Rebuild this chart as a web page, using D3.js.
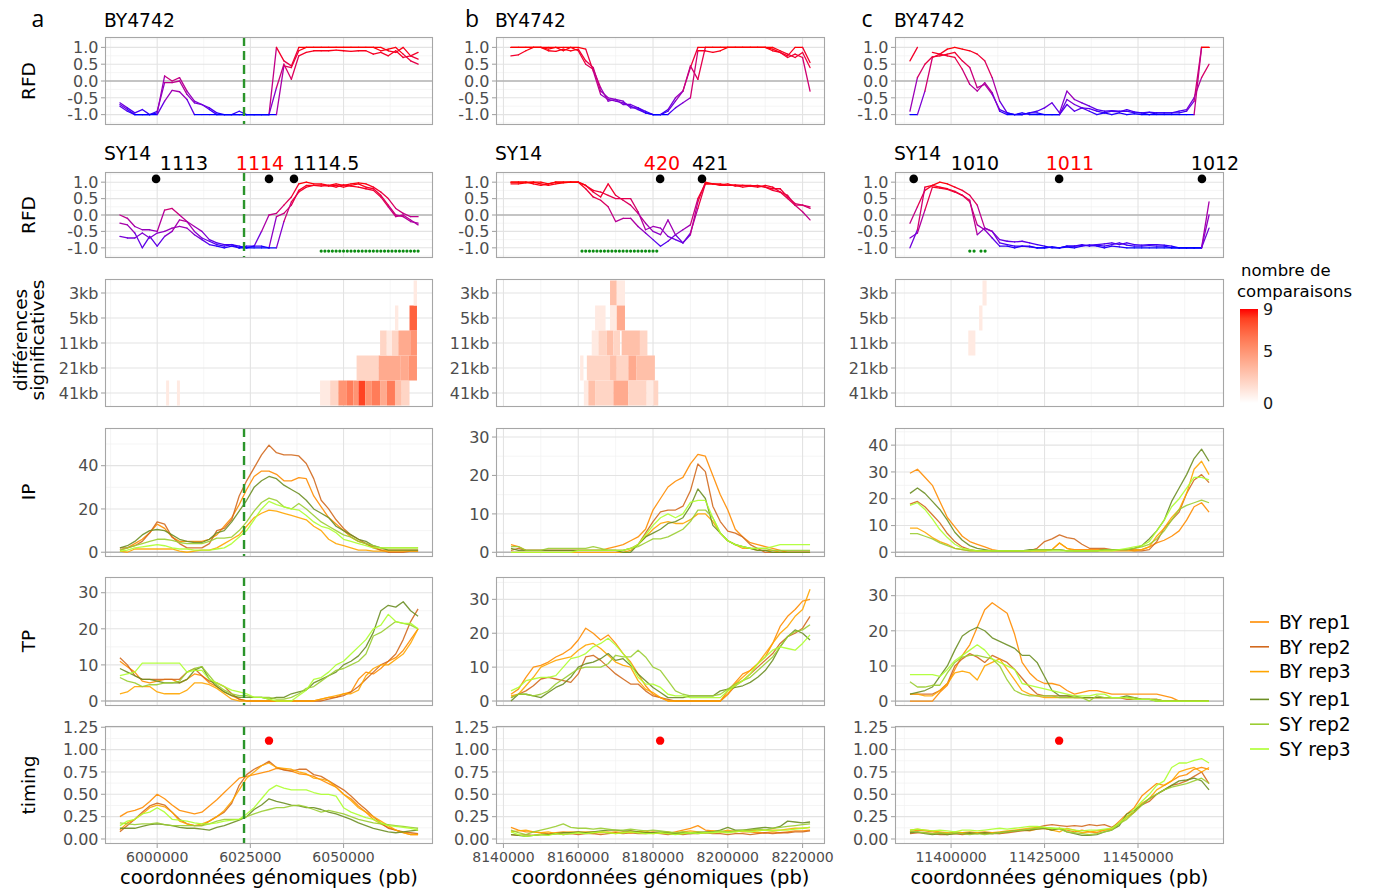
<!DOCTYPE html>
<html><head><meta charset="utf-8">
<script src="https://cdnjs.cloudflare.com/ajax/libs/d3/7.8.5/d3.min.js"></script>
<style>body{margin:0;background:#fff}svg{display:block}</style>
</head><body>
<svg id="chart" width="1376" height="894"></svg>
<script>
// ---------------- DATA ----------------
const regionStart = [5990000, 8142000, 11389000];
const regionEnd   = [6070000, 8222000, 11469000];
const stepBp = 2000;
const panelLetters = ["a","b","c"];

const xTicksA = [6000000, 6025000, 6050000];
const xTicksB = [8140000, 8160000, 8180000, 8200000, 8220000];
const xTicksC = [11400000, 11425000, 11450000];
const xMinorA = [5987500, 6012500, 6037500, 6062500];
const xMinorB = [8150000, 8170000, 8190000, 8210000];
const xMinorC = [11387500, 11412500, 11437500, 11462500];

const rfdTicks = [-1, -0.5, 0, 0.5, 1];
const rfdMinor = [-1.25, -0.75, -0.25, 0.25, 0.75, 1.25];
const ipTicksA = [0, 20, 40], ipMinorA = [10, 30, 50];
const ipTicksB = [0, 10, 20, 30], ipMinorB = [5, 15, 25];
const ipTicksC = [0, 10, 20, 30, 40], ipMinorC = [5, 15, 25, 35, 45];
const tpTicks = [0, 10, 20, 30], tpMinor = [5, 15, 25, 35];
const timTicks = [0, 0.25, 0.5, 0.75, 1, 1.25], timMinor = [0.125, 0.375, 0.625, 0.875, 1.125];

const rfdDom = [-1.31, 1.31];
const ipDomA = [-2.2, 57.4], ipDomB = [-1.22, 32.35], ipDomC = [-1.75, 46.4];
const tpDomA = [-1.39, 34.35], tpDomB = [-1.47, 36.6], tpDomC = [-1.4, 35.3];
const timDom = [-0.056, 1.264];

const seriesNames = ["BY rep1","BY rep2","BY rep3","SY rep1","SY rep2","SY rep3"];
const seriesColors = ["#FF8C00","#D2691E","#FFA500","#6B8E23","#9ACD32","#ADFF2F"];

const heatRows = ["3kb","5kb","11kb","21kb","41kb"];
const heatLegendTicks = [0, 5, 9];

// RFD BY4742
const rfdBYa = [
 [-0.65,-0.8,-0.95,-0.85,-1.0,-0.95,0.15,0.0,0.1,-0.3,-0.6,-0.7,-0.85,-1.0,-1.0,-1.0,-0.9,-1.0,-1.0,-1.0,-1.0,1.0,0.6,0.45,1.0,1.0,1.0,1.0,1.0,1.0,1.0,1.0,1.0,1.0,1.0,1.0,0.9,0.85,1.0,0.75,0.85],
 [-0.7,-0.85,-1.0,-1.0,-1.0,-0.9,-0.05,-0.05,0.0,-0.4,-0.65,-0.7,-0.8,-0.95,-1.0,-1.0,-1.0,-1.0,-1.0,-1.0,-1.0,-0.2,0.5,0.05,0.75,0.85,0.9,0.9,0.9,0.92,0.9,0.88,0.9,0.9,0.8,0.85,0.75,0.9,0.7,0.75,0.65],
 [-0.75,-0.9,-1.0,-1.0,-1.0,-1.0,-0.6,-0.28,-0.32,-0.55,-1.0,-1.0,-1.0,-1.0,-1.0,-1.0,-1.0,-1.0,-1.0,-1.0,-1.0,-1.0,0.45,0.4,0.9,1.0,1.0,1.0,1.0,1.0,1.0,1.0,1.0,1.0,1.0,0.9,0.95,1.0,0.8,0.6,0.5]
];
const rfdBYb = [
 [1,1,1,1,1,1,1,0.9,1,1,0.95,0.3,-0.4,-0.55,-0.6,-0.65,-0.75,-0.85,-0.95,-1.0,-1.0,-0.9,-0.6,-0.3,0.4,1.0,1.0,1.0,1.0,1.0,1.0,1.0,1.0,1.0,1.0,0.95,0.85,0.75,1.0,1.0,0.55],
 [0.75,0.78,0.9,1,1,0.9,0.88,0.95,0.9,0.95,0.6,0.4,-0.3,-0.5,-0.55,-0.7,-0.7,-0.8,-0.9,-1.0,-1.0,-1.0,-0.8,-0.65,-0.5,0.9,0.9,0.85,0.9,1,1,1,1,1,1,1,0.9,0.8,0.7,0.85,0.4],
 [1,1,1,1,1,0.95,1,1,1,0.9,0.5,0.35,-0.2,-0.6,-0.55,-0.6,-0.8,-0.8,-0.95,-1.0,-1.0,-0.85,-0.5,-0.3,0.45,0.05,1.0,1.0,1.0,1.0,1.0,1.0,1.0,1.0,1.0,0.9,0.85,0.7,0.8,0.7,-0.3]
];
const rfdBYc = [
 [0.6,1.0,null,0.85,0.8,0.95,1.0,0.95,0.9,0.8,0.6,0.1,-0.6,-0.95,-1.0,-1.0,-0.95,-0.95,-1.0,-1.0,-1.0,-0.55,-0.7,-0.8,-0.82,-0.9,-0.95,-0.9,-0.92,-0.85,-0.92,-0.95,-1.0,-0.95,-0.95,-0.95,-0.95,-0.9,-0.6,1.0,1.0],
 [-0.9,0.1,0.5,0.72,0.75,0.8,0.85,0.6,0.4,-0.2,-0.1,-0.4,-0.85,-0.95,-1.0,-1.0,-0.95,-0.9,-0.8,-0.65,-0.95,-0.3,-0.55,-0.65,-0.75,-0.85,-0.9,-0.88,-0.9,-0.9,-0.95,-0.95,-0.93,-0.95,-0.95,-0.95,-0.9,-0.85,-0.5,0.1,0.5],
 [-1.0,-1.0,-0.3,0.7,0.8,0.75,0.7,0.35,-0.1,-0.3,-0.05,-0.35,-0.9,-1.0,-1.0,-0.95,-1.0,-1.0,-1.0,-1.0,-1.0,-0.7,-0.9,-0.8,-0.9,-1.0,-0.95,-1.0,-0.95,-1.0,-0.98,-1.0,-1.0,-1.0,-1.0,-1.0,-1.0,-1.0,-1.0,1.0,1.0]
];
// RFD SY14
const rfdSYa = [
 [0.0,-0.1,-0.35,-0.45,-0.45,-0.5,0.15,0.2,0.0,-0.2,-0.35,-0.5,-0.75,-0.85,-0.9,-0.9,-1.0,-0.95,-0.95,-0.5,0.0,0.05,0.3,0.55,0.95,1.0,0.95,0.95,0.9,0.95,0.9,0.95,0.98,0.95,0.85,0.7,0.5,0.2,0.05,-0.05,-0.05],
 [-0.25,-0.3,-0.55,-1.0,-0.65,-0.95,-0.65,-0.5,-0.15,-0.2,-0.5,-0.7,-0.8,-0.9,-0.95,-0.9,-0.95,-1.0,-0.95,-0.95,-1.0,-0.05,0.05,0.3,0.75,0.9,0.9,0.92,0.88,0.9,0.85,0.9,0.95,0.85,0.8,0.6,0.3,0.0,-0.05,-0.2,-0.25],
 [-0.65,-0.7,-0.7,-0.55,-0.7,-0.55,-0.5,-0.4,-0.35,-0.4,-0.6,-0.75,-0.9,-0.95,-1.0,-0.95,-1.0,-1.0,-1.0,-1.0,-1.0,-1.0,-0.2,0.4,0.7,0.85,0.9,0.88,0.9,0.85,0.92,0.88,0.85,0.8,0.75,0.55,0.25,-0.05,0.0,-0.15,-0.3]
];
const rfdSYb = [
 [1,1,1,0.95,0.9,0.95,1,1,1,1,0.9,0.7,0.55,0.95,0.6,0.45,0.3,0.05,-0.25,-0.5,-0.6,-0.15,-0.6,-0.85,-0.55,0.2,0.95,0.95,0.95,0.9,0.92,0.9,0.9,0.88,0.85,0.8,0.8,0.55,0.35,0.3,0.2],
 [0.95,0.95,0.98,1,0.95,0.9,0.95,0.98,1,1,0.9,0.75,0.7,0.6,0.5,0.5,0.5,0.1,-0.45,-0.35,-0.4,-0.65,-0.75,-0.85,-0.6,0.4,1.0,0.95,0.92,0.95,0.88,0.9,0.88,0.85,0.9,0.85,0.7,0.6,0.3,0.3,0.25],
 [1,1,1,1,1,0.95,1,1,1,1,0.8,0.55,0.45,0.25,-0.2,-0.1,-0.1,-0.35,-0.55,-0.75,-0.95,-0.8,-0.6,-0.45,-0.3,0.5,0.95,0.95,0.9,0.9,0.9,0.85,0.88,0.9,0.85,0.75,0.7,0.5,0.3,0.1,-0.15]
];
const rfdSYc = [
 [-0.25,0.25,0.75,0.9,1.0,0.95,0.85,0.75,0.6,0.3,-0.4,-0.5,-0.75,-0.8,-0.82,-0.8,-0.85,-0.9,-0.95,-1.0,-1.0,-0.95,-0.95,-0.93,-0.92,-0.9,-0.88,-0.85,-0.9,-0.85,-0.9,-0.92,-0.9,-0.9,-0.92,-0.95,-1.0,-1.0,-1.0,-1.0,0.4],
 [-0.7,-0.55,0.15,0.85,0.82,0.78,0.7,0.6,0.45,-0.6,-0.4,-0.5,-0.85,-0.9,-0.95,-0.95,-0.97,-1.0,-1.0,-0.98,-1.0,-0.95,-0.95,-0.9,-0.95,-0.92,-0.95,-0.9,-0.85,-0.92,-0.95,-0.95,-0.93,-0.95,-0.95,-1.0,-1.0,-1.0,-1.0,-1.0,0.0],
 [-1.0,-0.45,0.85,0.9,0.85,0.8,0.72,0.6,0.4,-0.3,-0.45,-0.7,-0.95,-0.95,-1.0,-0.95,-0.95,-1.0,-1.0,-0.97,-1.0,-0.98,-1.0,-0.95,-0.92,-0.95,-1.0,-0.95,-0.97,-1.0,-1.0,-1.0,-1.0,-1.0,-1.0,-1.0,-1.0,-1.0,-1.0,-1.0,-0.4]
];

// heatmap tiles: [row, start, end, count]
const heatA = [
 ["41kb",6002400,6003200,1],["41kb",6005300,6006100,1],
 ["41kb",6043700,6046400,1],["41kb",6046400,6048600,2],["41kb",6048600,6050900,5],["41kb",6050900,6052600,6],["41kb",6052600,6054000,5],["41kb",6054000,6055800,8],["41kb",6055800,6057600,5],["41kb",6057600,6059800,6],["41kb",6059800,6061600,4],["41kb",6061600,6063800,6],["41kb",6063800,6065600,3],["41kb",6065600,6067700,2],
 ["21kb",6053500,6059400,2],["21kb",6059400,6065200,4],["21kb",6065200,6067400,4],["21kb",6067400,6069700,5],
 ["11kb",6059800,6061600,2],["11kb",6061600,6063000,1],["11kb",6063000,6064700,2],["11kb",6064700,6067900,4],["11kb",6067900,6069700,5],
 ["5kb",6063800,6064700,1],["5kb",6067700,6069700,7],
 ["3kb",6068800,6069700,1]
];
const heatB = [
 ["3kb",8168500,8170300,3],["3kb",8170300,8172500,1],
 ["5kb",8164500,8167300,1],["5kb",8168500,8170300,1],["5kb",8170300,8172500,4],
 ["11kb",8163600,8165400,1],["11kb",8165400,8167600,2],["11kb",8167600,8169400,3],["11kb",8169400,8171200,2],["11kb",8171600,8176500,3],["11kb",8176500,8178500,2],
 ["21kb",8160500,8161400,1],["21kb",8162300,8168500,2],["21kb",8168500,8170300,3],["21kb",8170300,8173400,2],["21kb",8173400,8175600,4],["21kb",8175600,8180500,3],
 ["41kb",8161500,8162700,1],["41kb",8162700,8164500,3],["41kb",8164500,8169400,2],["41kb",8169400,8173400,4],["41kb",8173400,8178300,2],["41kb",8178300,8180100,1],["41kb",8180100,8181400,2]
];
const heatC = [["3kb",11408400,11409500,1],["5kb",11407500,11408400,1],["11kb",11404600,11406500,1]];

// significant positions (green dots)
const greenA = [6044000,6045000,6046000,6047000,6048000,6049000,6050000,6051000,6052000,6053000,6054000,6055000,6056000,6057000,6058000,6059000,6060000,6061000,6062000,6063000,6064000,6065000,6066000,6067000,6068000,6069000,6070000];
const greenB = [8161000,8162000,8163000,8164000,8165000,8166000,8167000,8168000,8169000,8170000,8171000,8172000,8173000,8174000,8175000,8176000,8177000,8178000,8179000,8180000,8181000];
const greenC = [11405000,11406150,11408000,11409100];

// origins: [name, position, label position, is target]
const originsA = [["1113",5999700,6007200,false],["1114",6030000,6027600,true],["1114.5",6036700,6045300,false]];
const originsB = [["420",8181900,8182400,true],["421",8193100,8195300,false]];
const originsC = [["1010",11390000,11406400,false],["1011",11428900,11431800,true],["1012",11467100,11470600,false]];
const dashPos = [6023300, null, null];

// IP
const ipA = [
 [1,2,4,6,9,13,11,7,5,5,5,5,6,8,12,16,22,29,35,37.5,37.5,36,33,33,34.5,34,26,21,16,13,10,7,5,4,2.5,1,1,1,1,1,1],
 [2,2,3,5,9,14,13,7,4,2,2,2,4,10,11,15,26,33,39,45,49.5,46,45,45,44.5,41,34,24,20,15,11,8,6,4,2,1,0,0,0,0.5,0.5],
 [0.5,0,1.5,1.5,1.5,1.5,1.5,1.5,0.5,0,0.5,1,1,2,4,6,8,12,16,18,19.5,19,18,17,16,15,12,10,6,4,3,2,1,1,0.5,0.5,0.5,0.5,0.5,0.5,0.5],
 [2,3,5,8,10,10.5,10,8,6,5,4.5,4.5,6,9,10,14,19,24,30,33,35,34,31,29,27,24,20,18,16,12,10,8,6,5,3,2,1,1,1,1,1],
 [1,2,3,4,5,6,6,5.5,4.5,4,4,4,5,6.5,6.5,7,10,14,19,23,25,24,21,20,22.5,20,17,14,12,10,8,7,5,4,3,2,2,2,2,2,2],
 [0.5,1,2,2.5,3,3.5,3,2,1.5,1.5,1,1,1,1.5,2,4,7,10,15,20,23.5,22,21,20,19.5,17,14,12,11,9,6,5,4,3,2,2,2,2,2,2,2]
];
const ipB = [
 [2,1.5,0.5,0.5,0.5,0.5,0.5,0.5,0.5,0.5,0.5,0.5,0.5,1,1.5,2,3,4,6,11,14,17,18.5,19.5,23,25.5,25,20,15,11,6,4,2.5,2,1.5,1,0.5,0,0,0,0],
 [0.5,1,0.5,0.5,0.5,0.5,0.5,0.5,0.5,0.5,0.5,0.5,0.5,0.5,0.5,0.5,1,2,5,8,10.5,11,11,12,16,23,21,12,8,5.5,5,4,2,1,0,0,0,0,0,0,0],
 [0,0,0,0,0,0,0,0,0,0,0,0,0,0,0,0,0.5,2,4,6,7.5,8,7.5,7.5,8.5,10,10,8,5,3,2,1,1,0.5,0.5,0.5,0,0,0,0,0],
 [1,0.5,0.5,0.5,0.5,0.5,0.5,0.5,0.5,0.5,0.5,0.5,0.5,0.5,0.5,0,0,2,4,5,6,7.5,8,9,12,16.5,14,7,5,3,2,1.5,1,0.5,0.5,0,0,0,0,0,0],
 [1.5,1.5,0.5,0.5,0.5,1,1,1,1,1,1,1.5,1,0.5,0.5,0.5,1,1.5,2.5,3.5,3.5,4,5,6,8,11,11,9,5,3,2,1.5,1,1,1,0.5,0.5,0.5,0.5,0.5,0.5],
 [0,0,0,0,0,0,0,0,0,0.5,0.5,0.5,0.5,0.5,0.5,0.5,1,2,4.5,7,9,10,9,10,13,13.5,13.5,9,5,3,2,1.5,1,1,1,1.5,2,2,2,2,2]
];
const ipC = [
 [29.5,31,28,25,19,13,9.5,6,4,3,2,1,0.5,0.5,0.5,0.5,0.5,0.5,0.5,1,3.5,1.5,1,1,1,1,1,1,1,1,1,1,2,3.5,4.5,6,8,12,17,18.5,15],
 [18,19,17,14,11,7,4,2,1,0.5,0.5,0.5,0.5,0.5,0.5,0.5,0.5,1.5,4,5,6.5,5.5,5,3,1.5,1.5,1.5,1,1,1,0.5,0.5,1,4,9,12,15,22,27,29,26],
 [9,9,7.5,5.5,4,3,1.5,1,0.5,0.5,0.5,0.5,0.5,0.5,0.5,0.5,0.5,0.5,0.5,1,3.5,1.5,0.5,0.5,0.5,0.5,0.5,0.5,0.5,0.5,0.5,1,2,6,9,13,16,22,31,34,29],
 [22,24,22,19,16,12,7.5,4.5,2.5,1.5,1,0.5,0.5,0.5,0.5,0.5,1,1,1,1,1,0.5,0.5,0.5,0.5,0.5,1,1,1,1,1.5,2.5,5,8,12,19,24,29,35,38.5,34],
 [7,7,6,5,3.5,2.5,1.5,1,0.5,0.5,0.5,0.5,0.5,0.5,0.5,0.5,0.5,1,1,1,1,0.5,0.5,0.5,0.5,0.5,1,1,1,1,1.5,2,3,5,8,12,16,17.5,18.5,19.5,18.5],
 [17.5,18.5,16,12.5,8.5,5.5,3,1.5,1,0.5,0.5,0.5,0.5,0.5,0.5,0.5,0.5,0.5,0.5,0.5,0.5,0.5,0.5,0.5,0.5,0.5,0.5,0.5,1,1.5,2,2.5,4,8,12,17,20,24,28,28,27]
];
// TP
const tpA = [
 [11,9.5,8,5.5,5,5.5,6,6,5,6,7.5,7,5,4,2.5,1.5,0.5,0,0,0,0,0,0,0,0,0,0,0.5,1,1,2,2.5,6,8,7.5,9,11,12,14,17,20],
 [12,10,7,6,6,6,6,6,6,8,9,7,5.5,5,4,2,0.5,0,0,0,0,0,0,0,0,0,0,0,0.5,1,1.5,2.5,4,6,8,10,11,13,17,22,25.5],
 [2,2.5,4,4,4,2.5,2,2,2,3,5,5,4.5,3.5,2,0.5,0,0,0,0,0,0,0,0,0,0,0,0.5,1,1.5,2,2,3,7,9,10,10,11.5,13,16,20],
 [9,8,7,6,6,5.5,5,5,5,6,8.5,9.5,6,4,2.5,1.5,1,1,1,1,0.5,1,1,2,2.5,3,5,6,7,8,10,11,12.5,15,19,25,26.5,26,27.5,25,23.5],
 [6.5,5.5,5,4,4.5,4.5,5,5,5.5,8,9,9.5,7,4.5,3,2,1.5,1.5,1,1,1,0.5,0.5,1,2,3.5,4,5.5,7,8.5,9,10,11,13,18,19,20.5,22,21.5,21,20],
 [7,7.5,8,10.5,10.5,10.5,10.5,10.5,10.5,8,8.5,8.5,6,5,4,3,2.5,2,1,1,0.5,0,0,0,1.5,3,6,6.5,8,10,11,13,15,17,20,21,24,22,21.5,21.5,20]
];
const tpB = [
 [2,3.5,7,10,10.5,11.5,13,14,15.5,18,21.5,20,18,19.5,17,14,11.5,8,4.5,2,1,0,0,0,0,0,0,0,0,3,5.5,8,9,11,13,17,22,25,27,29.5,30],
 [1,2,3,4.5,6.5,7,6.5,6,5.5,8,13,13.5,12,10,8,6.5,5,5,3,1.5,1,0.5,0,0,0,0,0,0,0,2,4.5,6,8,10,12,14,17,19,20,21.5,25],
 [1.5,2,4.5,7,10,11,12,12.5,13,15,16.5,17,15.5,13.5,11.5,10.5,10,6,3.5,2.5,1,0,0,0,0,0,0,0,0,2,5,7,9,11,14,17,20,22,25,27,33],
 [0,2,2,1.5,1,2.5,4,5,7,10,11,11.5,12.5,14,12,12.5,10.5,8,6,4,2.5,1,1,1,1.5,1.5,1.5,1.5,3,3.5,4,4.5,5.5,7,9,12,16,19,21,20,18],
 [1,2,2,1.5,2,3,5,6.5,8,9.5,10,10,10,11,13.5,13,13,15,13,10,9,6,3,2,1.5,1.5,1.5,1.5,2,3.5,5,6,7,9,11,13,16,19,20.5,21,22.5],
 [3,4,6,6.5,7,7,7.5,10,12.5,13,14,16,17,18.5,16.5,14,11,7,5,5,4,2,1.5,1.5,1,1,1,1,1,3,4.5,6,8,11,13,15,16,15.5,15,17,19.5]
];
const tpC = [
 [0,0,0,0,2.5,4.5,9,13,16,21,26,28,26.5,25,19,11,8,6,5,5,4.5,3,2,2.5,3,3,2.5,2,2,2,2,2,2,2,1.5,1,0,0,0,0,0],
 [2,2,2,2,3,5,10,12,13.5,12.5,11,13,12,11,9,6.5,4,2,1.5,1.5,1.5,1.5,1,1,1,1,1,1,1,0.5,0.5,0.5,0.5,0.5,0,0,0,0,0,0,0],
 [2,2,1.5,1.5,3,5,8,8.5,8,6,10,11,12,9,6,3,2,1.5,1,1,1,1,1,1,1,1,1,1,1,1,1,0.5,0.5,0.5,0,0,0,0,0,0,0],
 [2,2.5,3,4,7,10,14.5,18.5,20,21,20,18,17,16,15,13,13,11,7,3,1.5,1.5,1.5,1,1,1,1,1,1,1.5,1,0.5,0.5,0,0,0,0,0,0,0,0],
 [5.5,4,4,4.5,4.5,8,11,12.5,13,13,12.5,12,10,6,3,2,1.5,1.5,1.5,1.5,1,1,1,1,0,1.5,1,1,1,1,1,0.5,0.5,0.5,0,0,0,0,0,0,0],
 [7.5,7.5,7.5,7.5,7,9,11.5,13,14.5,16,14.5,12,11,10,9,5,4.5,4,3.5,3,2.5,2,1.5,1.5,1.5,2,2,1,1,1,0.5,0.5,0.5,0,0,0,0,0,0,0,0]
];
// timing
const timA = [
 [0.25,0.3,0.32,0.35,0.42,0.5,0.45,0.38,0.32,0.3,0.28,0.3,0.37,0.44,0.52,0.6,0.68,0.7,0.72,0.74,0.76,0.79,0.78,0.76,0.73,0.72,0.7,0.66,0.62,0.58,0.5,0.45,0.37,0.3,0.22,0.17,0.13,0.1,0.07,0.05,0.05],
 [0.08,0.15,0.22,0.3,0.37,0.4,0.38,0.3,0.22,0.17,0.15,0.15,0.2,0.25,0.3,0.4,0.6,0.72,0.78,0.82,0.87,0.8,0.77,0.76,0.78,0.78,0.72,0.7,0.65,0.6,0.55,0.48,0.4,0.33,0.25,0.18,0.12,0.1,0.08,0.07,0.06],
 [0.1,0.18,0.22,0.28,0.35,0.38,0.36,0.3,0.2,0.17,0.15,0.17,0.2,0.25,0.32,0.42,0.55,0.68,0.75,0.82,0.85,0.8,0.79,0.78,0.75,0.73,0.68,0.67,0.65,0.58,0.5,0.43,0.35,0.3,0.25,0.2,0.15,0.1,0.07,0.05,0.05],
 [0.12,0.12,0.12,0.14,0.16,0.17,0.16,0.15,0.13,0.12,0.12,0.11,0.1,0.13,0.15,0.18,0.21,0.25,0.33,0.38,0.45,0.42,0.4,0.38,0.37,0.35,0.35,0.33,0.3,0.28,0.25,0.22,0.18,0.15,0.12,0.1,0.08,0.07,0.08,0.09,0.1],
 [0.18,0.17,0.16,0.17,0.17,0.18,0.16,0.15,0.15,0.15,0.15,0.15,0.17,0.2,0.22,0.22,0.22,0.25,0.28,0.31,0.33,0.35,0.35,0.37,0.38,0.36,0.33,0.3,0.32,0.3,0.28,0.25,0.22,0.2,0.18,0.17,0.16,0.15,0.14,0.13,0.12],
 [0.15,0.2,0.22,0.28,0.3,0.35,0.3,0.22,0.21,0.2,0.18,0.17,0.17,0.18,0.2,0.21,0.22,0.28,0.35,0.45,0.55,0.6,0.57,0.55,0.55,0.55,0.52,0.5,0.5,0.48,0.35,0.3,0.27,0.24,0.22,0.18,0.15,0.14,0.13,0.12,0.1]
];
const timB = [
 [0.13,0.1,0.08,0.08,0.07,0.06,0.07,0.08,0.07,0.08,0.07,0.06,0.08,0.07,0.08,0.07,0.09,0.08,0.07,0.08,0.07,0.06,0.08,0.1,0.12,0.15,0.1,0.09,0.08,0.08,0.09,0.08,0.08,0.07,0.07,0.08,0.07,0.08,0.09,0.09,0.1],
 [0.05,0.04,0.05,0.04,0.05,0.05,0.06,0.05,0.06,0.05,0.06,0.06,0.05,0.06,0.07,0.06,0.07,0.06,0.06,0.07,0.06,0.05,0.06,0.05,0.06,0.06,0.07,0.06,0.06,0.05,0.06,0.06,0.05,0.06,0.07,0.06,0.07,0.07,0.08,0.08,0.09],
 [0.08,0.09,0.1,0.08,0.07,0.08,0.06,0.07,0.08,0.07,0.08,0.08,0.07,0.08,0.06,0.08,0.07,0.08,0.09,0.06,0.07,0.08,0.06,0.08,0.09,0.08,0.07,0.09,0.08,0.1,0.08,0.09,0.1,0.09,0.1,0.1,0.1,0.11,0.12,0.12,0.13],
 [0.05,0.04,0.03,0.04,0.05,0.05,0.06,0.07,0.07,0.08,0.07,0.08,0.09,0.1,0.1,0.09,0.09,0.08,0.07,0.07,0.08,0.07,0.06,0.07,0.06,0.07,0.08,0.08,0.1,0.13,0.1,0.1,0.11,0.12,0.13,0.12,0.14,0.2,0.19,0.18,0.19],
 [0.1,0.07,0.05,0.08,0.1,0.12,0.14,0.17,0.13,0.12,0.12,0.11,0.12,0.11,0.1,0.1,0.11,0.1,0.09,0.1,0.09,0.08,0.07,0.08,0.07,0.08,0.07,0.08,0.09,0.08,0.09,0.1,0.1,0.11,0.1,0.12,0.13,0.14,0.15,0.16,0.17],
 [0.08,0.05,0.03,0.04,0.05,0.04,0.06,0.05,0.06,0.07,0.06,0.07,0.08,0.07,0.06,0.07,0.08,0.07,0.06,0.06,0.07,0.06,0.05,0.06,0.07,0.06,0.07,0.07,0.08,0.07,0.08,0.09,0.08,0.09,0.1,0.09,0.1,0.1,0.11,0.12,0.13]
];
const timC = [
 [0.08,0.1,0.09,0.08,0.07,0.06,0.08,0.07,0.06,0.07,0.08,0.07,0.06,0.08,0.09,0.1,0.09,0.11,0.12,0.1,0.12,0.1,0.08,0.1,0.08,0.07,0.1,0.12,0.2,0.28,0.35,0.48,0.55,0.62,0.6,0.65,0.7,0.72,0.78,0.8,0.78],
 [0.06,0.07,0.07,0.06,0.05,0.05,0.06,0.05,0.06,0.06,0.07,0.06,0.06,0.07,0.08,0.09,0.1,0.13,0.15,0.16,0.15,0.14,0.15,0.14,0.16,0.15,0.16,0.13,0.18,0.25,0.3,0.38,0.42,0.5,0.55,0.6,0.62,0.65,0.7,0.75,0.62],
 [0.1,0.11,0.1,0.09,0.08,0.07,0.06,0.07,0.08,0.07,0.06,0.07,0.08,0.09,0.1,0.11,0.12,0.13,0.12,0.1,0.08,0.12,0.1,0.07,0.08,0.09,0.1,0.11,0.17,0.24,0.3,0.4,0.45,0.55,0.6,0.65,0.75,0.78,0.8,0.75,0.8],
 [0.07,0.08,0.06,0.05,0.06,0.05,0.06,0.06,0.07,0.06,0.07,0.06,0.07,0.08,0.09,0.1,0.1,0.11,0.12,0.1,0.12,0.08,0.06,0.04,0.04,0.05,0.08,0.1,0.15,0.28,0.32,0.38,0.45,0.5,0.55,0.6,0.65,0.66,0.68,0.65,0.55],
 [0.09,0.08,0.07,0.06,0.07,0.06,0.07,0.06,0.05,0.06,0.05,0.06,0.07,0.08,0.09,0.1,0.11,0.12,0.13,0.12,0.11,0.08,0.07,0.06,0.05,0.06,0.08,0.1,0.17,0.22,0.3,0.38,0.45,0.5,0.55,0.58,0.6,0.62,0.65,0.68,0.62],
 [0.1,0.11,0.1,0.09,0.1,0.09,0.08,0.1,0.1,0.09,0.1,0.11,0.12,0.11,0.12,0.13,0.14,0.14,0.13,0.12,0.12,0.11,0.1,0.09,0.1,0.1,0.11,0.12,0.18,0.25,0.33,0.42,0.5,0.6,0.65,0.8,0.85,0.85,0.88,0.9,0.85]
];

// ---------------- DRAWING ----------------
const cols = [
 {rfdBY: rfdBYa, rfdSY: rfdSYa, heat: heatA, ip: ipA, tp: tpA, tim: timA, ipDom: ipDomA, ipTicks: ipTicksA, ipMinor: ipMinorA, tpDom: tpDomA, xt: xTicksA, xm: xMinorA, green: greenA, origins: originsA},
 {rfdBY: rfdBYb, rfdSY: rfdSYb, heat: heatB, ip: ipB, tp: tpB, tim: timB, ipDom: ipDomB, ipTicks: ipTicksB, ipMinor: ipMinorB, tpDom: tpDomB, xt: xTicksB, xm: xMinorB, green: greenB, origins: originsB},
 {rfdBY: rfdBYc, rfdSY: rfdSYc, heat: heatC, ip: ipC, tp: tpC, tim: timC, ipDom: ipDomC, ipTicks: ipTicksC, ipMinor: ipMinorC, tpDom: tpDomC, xt: xTicksC, xm: xMinorC, green: greenC, origins: originsC}
];

const FONT = "'DejaVu Sans', Verdana, sans-serif";
const GRID_MAJ = "#e3e3e3", GRID_MIN = "#f0f0f0", BORDER = "#a6a6a6", TICK = "#a6a6a6", TICKTXT = "#4d4d4d";
const colPx = [[105,433],[496,825],[895,1224]];
const rowPx = {by:[37,125], sy:[172,258], heat:[279,407], ip:[428,557], tp:[577,706], tim:[726,844]};

const svg = d3.select("#chart");
const defs = svg.append("defs");
const gBack = svg.append("g"), gData = svg.append("g"), gFront = svg.append("g");
let clipN = 0;

const rfdColor = d3.scaleLinear().domain([-1,1]).range(["blue","red"]).interpolate(d3.interpolateLab).clamp(true);
const heatColor = d3.scaleLinear().domain([0,9]).range(["#ffffff","#ff0000"]).interpolate(d3.interpolateLab);

function makeX(c){
  const d0 = regionStart[c], d1 = regionEnd[c], pad = (d1-d0)*0.05;
  return d3.scaleLinear().domain([d0-pad, d1+pad]).range(colPx[c]);
}
const fmtRFD = v => (v<0?"-":"") + Math.abs(v).toFixed(1);
const fmtTim = v => v.toFixed(2);
const fmtInt = v => String(v);

function panel(c, rowKey, o){
  const C = cols[c];
  const x = makeX(c);
  const [l,r] = colPx[c], [t,b] = rowPx[rowKey];
  let y, ypos, inDom;
  if (o.band){
    y = d3.scaleBand().domain(heatRows).range([t+1.5, b-1.5]).padding(0);
    ypos = v => y(v) + y.bandwidth()/2;
    inDom = () => true;
  } else {
    y = d3.scaleLinear().domain(o.domain).range([b, t]);
    ypos = v => y(v);
    inDom = v => v >= o.domain[0] && v <= o.domain[1];
  }
  gBack.append("rect").attr("x",l).attr("y",t).attr("width",r-l).attr("height",b-t).attr("fill","#fff");
  const gb = gBack.append("g");
  gb.selectAll(null).data(C.xm).join("line")
    .attr("x1",d=>x(d)).attr("x2",d=>x(d)).attr("y1",t).attr("y2",b)
    .attr("stroke",GRID_MIN).attr("stroke-width",0.7);
  if (o.minor) gb.selectAll(null).data(o.minor.filter(inDom)).join("line")
    .attr("x1",l).attr("x2",r).attr("y1",ypos).attr("y2",ypos)
    .attr("stroke",GRID_MIN).attr("stroke-width",0.7);
  gb.selectAll(null).data(C.xt).join("line")
    .attr("x1",d=>x(d)).attr("x2",d=>x(d)).attr("y1",t).attr("y2",b)
    .attr("stroke",GRID_MAJ).attr("stroke-width",1.1);
  gb.selectAll(null).data(o.ticks.filter(inDom)).join("line")
    .attr("x1",l).attr("x2",r).attr("y1",ypos).attr("y2",ypos)
    .attr("stroke",GRID_MAJ).attr("stroke-width",1.1);
  if (o.zero) gb.append("line").attr("x1",l).attr("x2",r).attr("y1",y(0)).attr("y2",y(0))
    .attr("stroke","#b4b4b4").attr("stroke-width",1.4);
  const id = "clip" + (clipN++);
  defs.append("clipPath").attr("id",id).append("rect").attr("x",l).attr("y",t).attr("width",r-l).attr("height",b-t);
  const gd = gData.append("g").attr("clip-path",`url(#${id})`);
  gFront.append("rect").attr("x",l+0.5).attr("y",t+0.5).attr("width",r-l-1).attr("height",b-t-1)
    .attr("fill","none").attr("stroke",BORDER).attr("stroke-width",1.1);
  const ga = gFront.append("g");
  ga.selectAll(null).data(o.ticks.filter(inDom)).join("line")
    .attr("x1",l-4).attr("x2",l).attr("y1",ypos).attr("y2",ypos)
    .attr("stroke",TICK).attr("stroke-width",1.1);
  ga.selectAll(null).data(o.ticks.filter(inDom)).join("text")
    .attr("x",l-6.5).attr("y",ypos).attr("dy","0.36em")
    .attr("text-anchor","end").attr("font-family",FONT).attr("font-size",16).attr("fill",TICKTXT)
    .text(o.fmt);
  return {x, y, gd, l, r, t, b, c};
}

function pos(c, i){ return regionStart[c] + i*stepBp; }

function drawRFD(p, series){
  const segs = [];
  series.forEach(vals => {
    for (let i=0;i<vals.length-1;i++){
      const a = vals[i], b = vals[i+1];
      if (a == null || b == null) continue;
      segs.push({x1: pos(p.c,i), x2: pos(p.c,i+1), y1: a, y2: b});
    }
  });
  p.gd.selectAll(null).data(segs).join("line")
    .attr("x1",d=>p.x(d.x1)).attr("x2",d=>p.x(d.x2)).attr("y1",d=>p.y(d.y1)).attr("y2",d=>p.y(d.y2))
    .attr("stroke",d=>rfdColor((d.y1+d.y2)/2)).attr("stroke-width",1.3).attr("stroke-linecap","round");
}
function drawSeries(p, series){
  const line = d3.line().x((d,i)=>p.x(pos(p.c,i))).y(d=>p.y(d));
  p.gd.selectAll(null).data(series).join("path")
    .attr("d",line).attr("fill","none")
    .attr("stroke",(d,i)=>seriesColors[i]).attr("stroke-width",1.3).attr("stroke-opacity",0.9)
    .attr("stroke-linejoin","round");
}
function drawDash(p){
  const dp = dashPos[p.c];
  if (dp == null) return;
  p.gd.append("line").attr("x1",p.x(dp)).attr("x2",p.x(dp)).attr("y1",p.t).attr("y2",p.b)
    .attr("stroke","#2a942a").attr("stroke-width",2.4).attr("stroke-dasharray","9,5");
}
function yTitle(lines, cy){
  const g = gFront.append("g").attr("transform",`translate(0,${cy})`);
  lines.forEach((s,k) => {
    g.append("text").attr("transform",`translate(${lines.length>1 ? 27 + k*17 : 35},0) rotate(-90)`)
      .attr("text-anchor","middle").attr("font-family",FONT).attr("font-size",18.5).attr("fill","#000").text(s);
  });
}

cols.forEach((C, c) => {
  const [l, r] = colPx[c];
  gFront.append("text").attr("x", [38,472,867][c]).attr("y",27).attr("text-anchor","middle")
    .attr("font-family","'Open Sans', 'Liberation Sans', sans-serif").attr("font-size",23).attr("fill","#000").text(panelLetters[c]);
  gFront.append("text").attr("x",l-1).attr("y",27).attr("font-family",FONT).attr("font-size",18.7).attr("fill","#000").text("BY4742");
  gFront.append("text").attr("x",l-1).attr("y",160).attr("font-family",FONT).attr("font-size",18.7).attr("fill","#000").text("SY14");

  let p = panel(c, "by", {domain: rfdDom, ticks: rfdTicks, minor: rfdMinor, fmt: fmtRFD, zero: true});
  drawRFD(p, C.rfdBY); drawDash(p);
  p = panel(c, "sy", {domain: rfdDom, ticks: rfdTicks, minor: rfdMinor, fmt: fmtRFD, zero: true});
  drawRFD(p, C.rfdSY); drawDash(p);
  gFront.append("g").selectAll(null).data(C.green).join("circle")
    .attr("cx",d=>p.x(d)).attr("cy",p.y(-1.1)).attr("r",1.6).attr("fill","#0c8c12");
  gFront.append("g").selectAll(null).data(C.origins).join("circle")
    .attr("cx",d=>p.x(d[1])).attr("cy",p.y(1.1)).attr("r",4.3).attr("fill","#000");
  gFront.append("g").selectAll(null).data(C.origins).join("text")
    .attr("x",d=>p.x(d[2])).attr("y",169.5).attr("text-anchor","middle")
    .attr("font-family",FONT).attr("font-size",19).attr("fill",d=>d[3] ? "#ff0000" : "#000").text(d=>d[0]);

  p = panel(c, "heat", {band: true, ticks: heatRows, fmt: d=>d});
  p.gd.selectAll(null).data(C.heat).join("rect")
    .attr("x",d=>p.x(d[1])).attr("width",d=>Math.max(0.8, p.x(d[2])-p.x(d[1])))
    .attr("y",d=>p.y(d[0])).attr("height",p.y.bandwidth())
    .attr("fill",d=>heatColor(d[3]));

  p = panel(c, "ip", {domain: C.ipDom, ticks: C.ipTicks, minor: C.ipMinor, fmt: fmtInt, zero: true});
  drawSeries(p, C.ip); drawDash(p);
  p = panel(c, "tp", {domain: C.tpDom, ticks: tpTicks, minor: tpMinor, fmt: fmtInt, zero: true});
  drawSeries(p, C.tp); drawDash(p);
  p = panel(c, "tim", {domain: timDom, ticks: timTicks, minor: timMinor, fmt: fmtTim, zero: false});
  drawSeries(p, C.tim); drawDash(p);
  const target = C.origins.find(o => o[3]);
  gFront.append("circle").attr("cx",p.x(target[1])).attr("cy",p.y(1.1)).attr("r",4.2).attr("fill","#ff0000");
  const gx = gFront.append("g");
  gx.selectAll(null).data(C.xt).join("line")
    .attr("x1",d=>p.x(d)).attr("x2",d=>p.x(d)).attr("y1",p.b).attr("y2",p.b+4)
    .attr("stroke",TICK).attr("stroke-width",1.1);
  gx.selectAll(null).data(C.xt).join("text")
    .attr("x",d=>p.x(d)).attr("y",p.b+18).attr("text-anchor","middle")
    .attr("font-family",FONT).attr("font-size",14).attr("fill",TICKTXT).text(d=>String(d));
  gFront.append("text").attr("x",(l+r)/2).attr("y",884).attr("text-anchor","middle")
    .attr("font-family",FONT).attr("font-size",19.5).attr("fill","#000").text("coordonnées génomiques (pb)");
});

yTitle(["RFD"], 81);
yTitle(["RFD"], 215);
yTitle(["différences","significatives"], 340);
yTitle(["IP"], 492);
yTitle(["TP"], 641);
yTitle(["timing"], 785);

// colour bar legend
const grad = defs.append("linearGradient").attr("id","heatgrad").attr("x1",0).attr("y1",1).attr("x2",0).attr("y2",0);
d3.range(0, 9.01, 0.9).forEach(v => grad.append("stop").attr("offset", v/9).attr("stop-color", heatColor(v)));
const cbY = d3.scaleLinear().domain([0,9]).range([403, 309]);
gFront.append("rect").attr("x",1240).attr("y",cbY(9)).attr("width",18).attr("height",cbY(0)-cbY(9)).attr("fill","url(#heatgrad)");
gFront.append("g").selectAll(null).data(heatLegendTicks).join("text")
  .attr("x",1263).attr("y",d=>cbY(d)).attr("dy","0.36em").attr("font-family",FONT).attr("font-size",16).attr("fill","#1a1a1a").text(d=>d);
gFront.append("text").attr("x",1241).attr("y",276).attr("font-family",FONT).attr("font-size",16.5).attr("fill","#000").text("nombre de");
gFront.append("text").attr("x",1237).attr("y",297).attr("font-family",FONT).attr("font-size",16.5).attr("fill","#000").text("comparaisons");

// series legend
const lg = gFront.append("g");
seriesNames.forEach((s,i) => {
  const yy = 622 + i*24.8 + (i >= 3 ? 3 : 0);
  lg.append("line").attr("x1",1250).attr("x2",1269).attr("y1",yy).attr("y2",yy)
    .attr("stroke",seriesColors[i]).attr("stroke-width",1.6);
  lg.append("text").attr("x",1279).attr("y",yy).attr("dy","0.36em")
    .attr("font-family",FONT).attr("font-size",18.7).attr("fill","#000").text(s);
});
</script>
</body></html>
